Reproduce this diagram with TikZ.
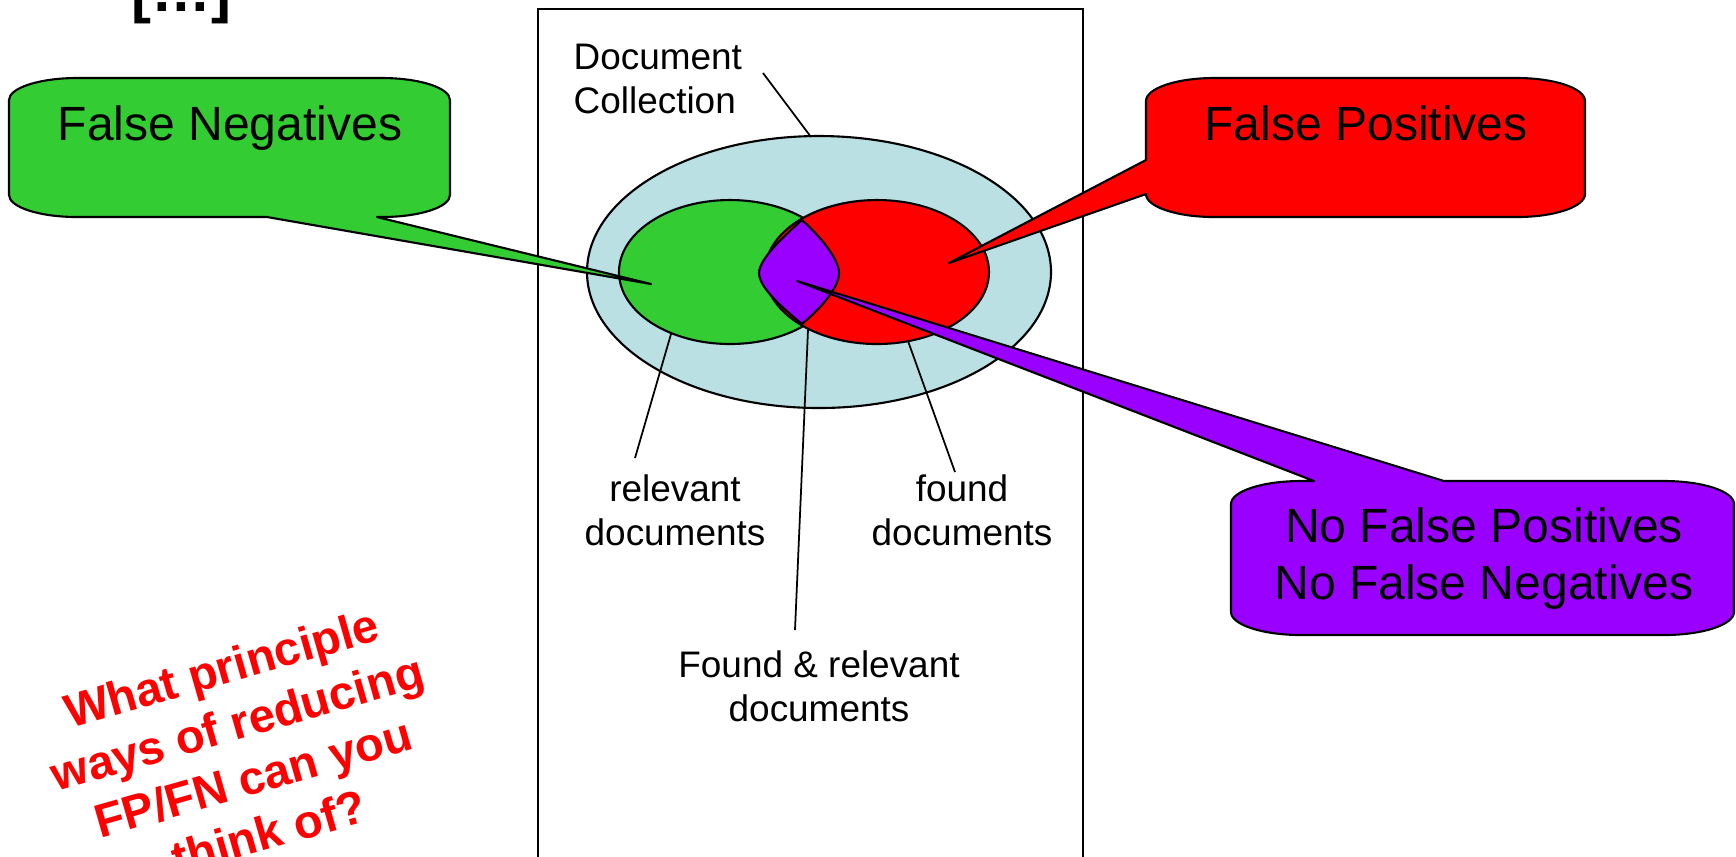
\documentclass[tikz,border=0pt]{standalone}
\usepackage{fontspec}
\setmainfont{Liberation Sans}
\definecolor{fngreen}{HTML}{33CC33}
\definecolor{fpred}{HTML}{FF0000}
\definecolor{okpurple}{HTML}{9900FF}
\definecolor{collblue}{HTML}{BAE0E3}
\begin{document}
\begin{tikzpicture}[x=0.01cm,y=-0.01cm,
  shape line/.style={draw=black,line width=0.6pt,line join=round},
  leader/.style={draw=black,line width=0.5pt},
  bigtext/.style={font=\fontsize{13.66}{16.2}\selectfont,inner sep=0pt,align=center},
  smalltext/.style={font=\fontsize{10.5}{12.4}\selectfont,inner sep=0pt},
  question/.style={font=\bfseries\fontsize{13.4}{16.2}\selectfont,text=fpred,inner sep=0pt,align=center,rotate=16}]
\path[use as bounding box] (0,0) rectangle (1736,856);
\clip (0,0) rectangle (1736,856);
\fill[white] (0,0) rectangle (1736,856);

% frame
\draw[line width=0.7pt] (538,9) rectangle (1083,900);

% ellipses
\draw[shape line,fill=collblue] (819,272) ellipse [x radius=232, y radius=136];
\draw[shape line,fill=fngreen] (730,272) ellipse [x radius=111, y radius=72];
\draw[shape line,fill=fpred] (877,272) ellipse [x radius=112, y radius=72];
\draw[shape line,fill=okpurple] (802,220) .. controls (784,236) and (759,259) .. (759,273)
   .. controls (759,288) and (784,309) .. (802,324)
   .. controls (820,309) and (839,288) .. (839,273)
   .. controls (839,259) and (820,236) .. (802,220) -- cycle;

% labels
\node[smalltext,anchor=west,align=left] (coll) at (573,79) {Document\\Collection};
\node[smalltext,align=center] (rel) at (675,510) {relevant\\documents};
\node[smalltext,align=center] (found) at (962,510) {found\\documents};
\node[smalltext,align=center] (both) at (819,686) {Found \& relevant\\documents};

% leader lines
\coordinate (collA) at (763,73);
\coordinate (collB) at (811,137);
\coordinate (relA) at (671,334);
\coordinate (relB) at (635,458);
\coordinate (foundA) at (908,341);
\coordinate (foundB) at (955,472);
\coordinate (bothA) at (808,330);
\coordinate (bothB) at (795,630);
\draw[leader] (collA) -- (collB);
\draw[leader] (relA) -- (relB);
\draw[leader] (foundA) -- (foundB);
\draw[leader] (bothA) -- (bothB);

% callout tips
\coordinate (tipFN) at (651,284);
\coordinate (tipFP) at (949,263);
\coordinate (tipNN) at (797,281);

% green callout
\draw[shape line,fill=fngreen] (9,100) .. controls (9,87.9) and (39.5,78) .. (77,78)
  -- (382,78) .. controls (419.5,78) and (450,87.9) .. (450,100)
  -- (450,195) .. controls (450,207.1) and (419.5,217) .. (382,217)
  -- (377,217) -- (tipFN) -- (267,217) -- (77,217)
  .. controls (39.5,217) and (9,207.1) .. (9,195) -- cycle;
% red callout
\draw[shape line,fill=fpred] (1146,101) .. controls (1146,88.3) and (1176.5,78) .. (1214,78)
  -- (1517,78) .. controls (1554.5,78) and (1585,88.3) .. (1585,101)
  -- (1585,194) .. controls (1585,206.7) and (1554.5,217) .. (1517,217)
  -- (1214,217) .. controls (1176.5,217) and (1146,206.7) .. (1146,194)
  -- (tipFP) -- (1146,160) -- cycle;
% purple callout
\draw[shape line,fill=okpurple] (1231,504) .. controls (1231,491.3) and (1262.4,481) .. (1301,481)
  -- (1314,481) -- (tipNN) -- (1444,481) -- (1664,481)
  .. controls (1702.6,481) and (1734,491.3) .. (1734,504)
  -- (1734,612) .. controls (1734,624.7) and (1702.6,635) .. (1664,635)
  -- (1301,635) .. controls (1262.4,635) and (1231,624.7) .. (1231,612) -- cycle;

% callout texts
\node[bigtext,anchor=base] (fn) at (230,140) {False Negatives};
\node[bigtext,anchor=base] (fp) at (1366,140) {False Positives};
\node[bigtext] (nn) at (1484,559) {No False Positives\\No False Negatives};

% question
\node[question] (q) at (245,750) {What principle\\ways of reducing\\FP/FN can you\\think of?};

% ellipsis title
\node[font=\bfseries\fontsize{17}{20}\selectfont,inner sep=0pt,anchor=base west] (dots) at (131,11) {[…]};
\end{tikzpicture}
\end{document}
